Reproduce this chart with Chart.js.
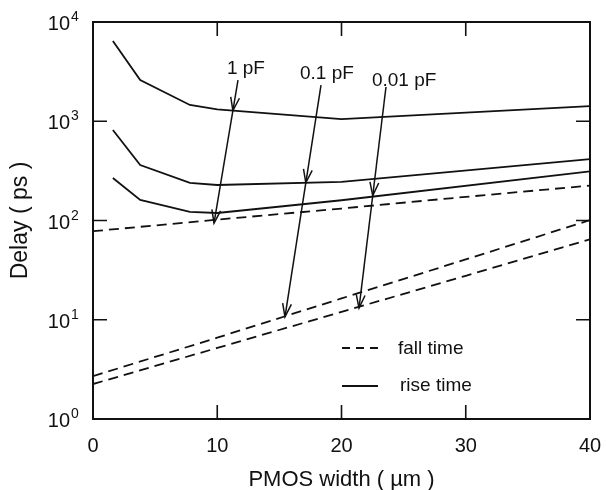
<!DOCTYPE html>
<html>
<head>
<meta charset="utf-8">
<script src="https://cdn.jsdelivr.net/npm/chart.js@4/dist/chart.umd.min.js"></script>
<style>
  html, body { margin: 0; padding: 0; background: #fff; }
  canvas { display: block; }
</style>
</head>
<body>
<canvas id="delayChart" width="606" height="490"></canvas>
<script>
// ===== Date =====
const riseWidths = [1.6, 3.8, 7.8, 10, 20, 40];
const rise1pF = [6450, 2600, 1460, 1320, 1050, 1420];
const rise01pF = [816, 362, 239, 228, 245, 415];
const rise001pF = [268, 161, 122, 119, 160, 312];

const fallWidths = [0, 10, 20, 30, 40];
const fall1pF = [78, 102, 132, 173, 225];
const fall01pF = [2.7, 6.6, 16.4, 40.5, 101];
const fall001pF = [2.25, 5.2, 12.0, 27.7, 64.7];

const xTicks = [0, 10, 20, 30, 40];
const yTicks = [1, 10, 100, 1000, 10000];

// sageti: [x, y] in unitati de date, midY = unde atinge curba de urcare
const arrowLabels = ["1 pF", "0.1 pF", "0.01 pF"];
const labelAt = [[10.78, 3000], [16.66, 2665], [22.45, 2265]];
const arrowFrom = [[11.67, 2600], [18.35, 2318], [23.58, 2213]];
const arrowTo = [[9.74, 94], [15.45, 10.7], [21.41, 13.1]];
const arrowMidY = [1280, 240, 178];

const FONT = "'Liberation Sans', Arial, sans-serif";
const INK = "#111";

// ===== Serii =====
function pts(xs, ys) {
  return xs.map((x, i) => ({ x, y: ys[i] }));
}

function series(label, xs, ys, dashed) {
  return {
    label,
    data: pts(xs, ys),
    borderColor: INK,
    borderWidth: 1.8,
    borderDash: dashed ? [10, 6] : [],
    pointRadius: 0,
    tension: 0,
    fill: false
  };
}

// ===== Desen peste grafic: cadru, gradatii, texte, sageti =====
function arrowHead(ctx, tx, ty, ang) {
  const len = 14, spread = 0.32;
  ctx.beginPath();
  ctx.moveTo(tx - len * Math.cos(ang - spread), ty - len * Math.sin(ang - spread));
  ctx.lineTo(tx, ty);
  ctx.lineTo(tx - len * Math.cos(ang + spread), ty - len * Math.sin(ang + spread));
  ctx.stroke();
}

const overlay = {
  id: "overlay",
  afterDraw(chart) {
    const { ctx, chartArea: a, scales: { x, y } } = chart;
    ctx.save();
    ctx.strokeStyle = INK;
    ctx.fillStyle = INK;
    ctx.setLineDash([]);

    // cadru
    ctx.lineWidth = 2;
    ctx.strokeRect(a.left, a.top, a.right - a.left, a.bottom - a.top);

    // gradatii spre interior
    const tk = 14;
    ctx.lineWidth = 1.6;
    xTicks.slice(1, -1).forEach(v => {
      const px = x.getPixelForValue(v);
      ctx.beginPath();
      ctx.moveTo(px, a.bottom); ctx.lineTo(px, a.bottom - tk);
      ctx.moveTo(px, a.top); ctx.lineTo(px, a.top + tk);
      ctx.stroke();
    });
    yTicks.slice(1, -1).forEach(v => {
      const py = y.getPixelForValue(v);
      ctx.beginPath();
      ctx.moveTo(a.left, py); ctx.lineTo(a.left + tk, py);
      ctx.moveTo(a.right, py); ctx.lineTo(a.right - tk, py);
      ctx.stroke();
    });

    // etichete axa x
    ctx.font = `20px ${FONT}`;
    ctx.textAlign = "center";
    ctx.textBaseline = "alphabetic";
    xTicks.forEach(v => ctx.fillText(String(v), x.getPixelForValue(v), 452));

    // etichete axa y (10 cu exponent)
    yTicks.forEach(v => {
      const py = y.getPixelForValue(v);
      ctx.font = `20px ${FONT}`;
      ctx.textAlign = "right";
      ctx.fillText("10", 70, py + 8);
      ctx.font = `14px ${FONT}`;
      ctx.textAlign = "left";
      ctx.fillText(String(Math.round(Math.log10(v))), 71, py - 1);
    });

    // titluri axe
    ctx.font = `22px ${FONT}`;
    ctx.textAlign = "center";
    ctx.fillText("PMOS width ( \u00b5m )", (a.left + a.right) / 2, 486);
    ctx.save();
    ctx.translate(27, (a.top + a.bottom) / 2);
    ctx.rotate(-Math.PI / 2);
    ctx.font = `23px ${FONT}`;
    ctx.fillText("Delay ( ps )", 0, 0);
    ctx.restore();

    // sageti + etichete capacitate
    ctx.lineWidth = 1.5;
    arrowLabels.forEach((txt, i) => {
      const x0 = x.getPixelForValue(arrowFrom[i][0]), y0 = y.getPixelForValue(arrowFrom[i][1]);
      const x1 = x.getPixelForValue(arrowTo[i][0]), y1 = y.getPixelForValue(arrowTo[i][1]);
      ctx.beginPath();
      ctx.moveTo(x0, y0); ctx.lineTo(x1, y1);
      ctx.stroke();
      const ang = Math.atan2(y1 - y0, x1 - x0);
      arrowHead(ctx, x1, y1, ang);
      const my = y.getPixelForValue(arrowMidY[i]);
      const mx = x0 + (x1 - x0) * (my - y0) / (y1 - y0);
      arrowHead(ctx, mx, my, ang);

      ctx.font = `19px ${FONT}`;
      ctx.textAlign = "left";
      ctx.fillText(txt, x.getPixelForValue(labelAt[i][0]), y.getPixelForValue(labelAt[i][1]));
    });

    // legenda
    ctx.lineWidth = 1.8;
    ctx.beginPath();
    ctx.setLineDash([8, 6]);
    ctx.moveTo(342, 348); ctx.lineTo(378, 348);
    ctx.stroke();
    ctx.setLineDash([]);
    ctx.beginPath();
    ctx.moveTo(342, 386); ctx.lineTo(378, 386);
    ctx.stroke();
    ctx.font = `19px ${FONT}`;
    ctx.textAlign = "left";
    ctx.fillText("fall time", 398, 354);
    ctx.fillText("rise time", 400, 391);

    ctx.restore();
  }
};

// ===== Chart.js =====
new Chart(document.getElementById("delayChart").getContext("2d"), {
  type: "line",
  data: {
    datasets: [
      series("rise 1 pF", riseWidths, rise1pF, false),
      series("rise 0.1 pF", riseWidths, rise01pF, false),
      series("rise 0.01 pF", riseWidths, rise001pF, false),
      series("fall 1 pF", fallWidths, fall1pF, true),
      series("fall 0.1 pF", fallWidths, fall01pF, true),
      series("fall 0.01 pF", fallWidths, fall001pF, true)
    ]
  },
  options: {
    responsive: false,
    devicePixelRatio: 1,
    animation: false,
    layout: { padding: { top: 22, right: 16, left: 0, bottom: 0 } },
    plugins: { legend: { display: false }, tooltip: { enabled: false } },
    scales: {
      x: {
        type: "linear", min: 0, max: 40,
        ticks: { display: false }, grid: { display: false }, border: { display: false },
        afterFit: s => { s.height = 71; }
      },
      y: {
        type: "logarithmic", min: 1, max: 10000,
        ticks: { display: false }, grid: { display: false }, border: { display: false },
        afterFit: s => { s.width = 93; }
      }
    }
  },
  plugins: [overlay]
});
</script>
</body>
</html>
